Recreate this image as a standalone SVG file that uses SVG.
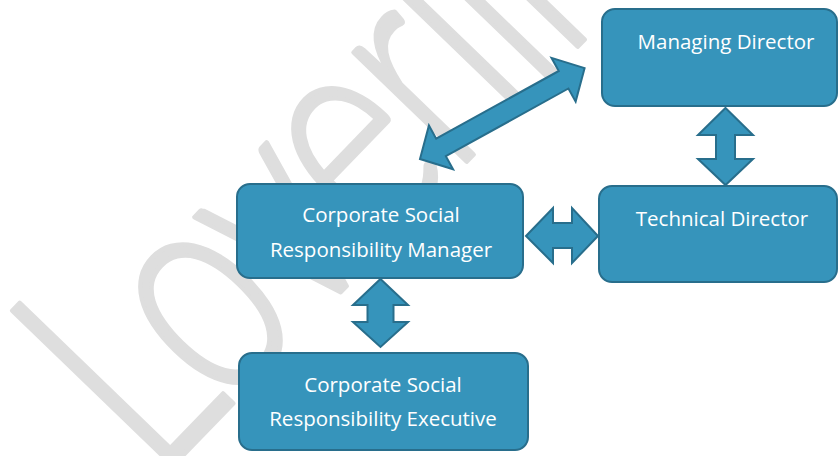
<svg xmlns="http://www.w3.org/2000/svg" width="839" height="456" viewBox="0 0 839 456">
  <style>
    .box { fill: #3694bb; stroke: #286e8c; stroke-width: 2; }
    .arrow { fill: #3694bb; stroke: #286e8c; stroke-width: 2; stroke-linejoin: miter; }
    .label { font-family: "Open Sans", "Liberation Sans", sans-serif; font-size: 20.5px; fill: #ffffff; text-anchor: middle; }
    .wm { font-family: "Lato", "Open Sans", sans-serif; font-weight: 300; font-size: 315px; letter-spacing: -10px; fill: #dedede; stroke: #dedede; stroke-width: 5; stroke-linejoin: round; }
  </style>
  <rect width="839" height="456" fill="#ffffff"/>
  <text class="wm" transform="translate(156,483) rotate(-46) scale(0.72,1)">Loverlll</text>

  <g id="connectors">
    <polygon class="arrow" transform="translate(420,159) rotate(-28.9)" points="0,0 24,-25 24,-10 164,-10 164,-25 188,0 164,25 164,10 24,10 24,25"/>
    <polygon class="arrow" points="725.5,108 753,135 735,135 735,159 753,159 725.5,185 698,159 716,159 716,135 698,135"/>
    <polygon class="arrow" points="526,236 553,208 553,223 572,223 572,208 598,236 572,263 572,248 553,248 553,263"/>
    <polygon class="arrow" points="380.5,279 408,305 393.5,305 393.5,322 408,322 380.5,347 353,322 367.5,322 367.5,305 353,305"/>
  </g>

  <g id="managing-director">
    <rect class="box" x="602" y="9" width="235" height="97" rx="13"/>
    <text class="label" x="726" y="49">Managing Director</text>
  </g>
  <g id="technical-director">
    <rect class="box" x="599" y="186" width="238" height="96" rx="13"/>
    <text class="label" x="722" y="226">Technical Director</text>
  </g>
  <g id="csr-manager">
    <rect class="box" x="237" y="184" width="286" height="94" rx="13"/>
    <text class="label" x="381" y="222">Corporate Social</text>
    <text class="label" x="381" y="257">Responsibility Manager</text>
  </g>
  <g id="csr-executive">
    <rect class="box" x="239" y="353" width="289" height="97" rx="13"/>
    <text class="label" x="383" y="392">Corporate Social</text>
    <text class="label" x="383" y="426">Responsibility Executive</text>
  </g>
</svg>
